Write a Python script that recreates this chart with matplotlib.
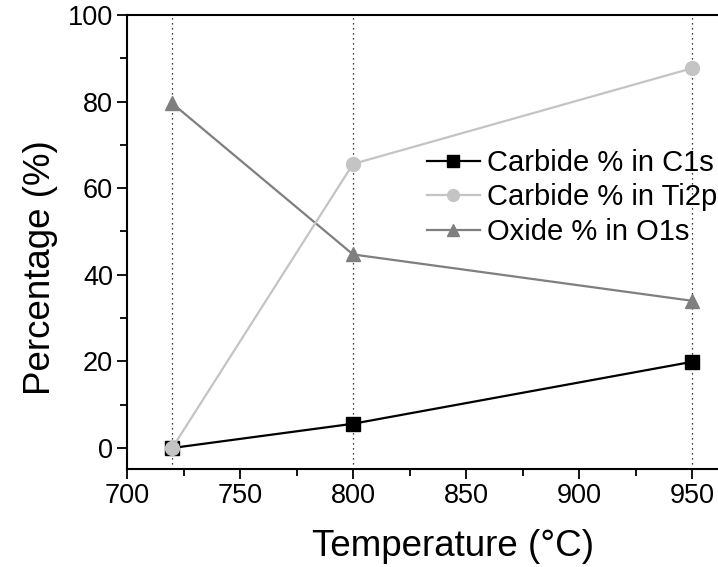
import matplotlib
matplotlib.use("Agg")
import matplotlib.pyplot as plt
from matplotlib.ticker import MultipleLocator

plt.rcParams['font.family'] = ['Liberation Sans', 'DejaVu Sans']

temps = [720, 800, 950]
c1s = [0.0, 5.6, 19.9]
ti2p = [0.0, 65.6, 87.7]
o1s = [79.6, 44.7, 34.0]
labels = ["Carbide % in C1s", "Carbide % in Ti2p", "Oxide % in O1s"]

W, H = 718, 567
fig = plt.figure(figsize=(W / 100, H / 100), dpi=100)
left, right, top, bottom = 127, 718, 15, 469
ax = fig.add_axes([left / W, 1 - bottom / H, (right - left) / W, (bottom - top) / H])

for t in temps:
    ax.axvline(t, color='black', linestyle=(0, (1, 3)), linewidth=0.9, zorder=1)

ax.plot(temps, c1s, color='black', marker='s', markersize=9.5, linewidth=1.6, label=labels[0], zorder=3)
ax.plot(temps, ti2p, color='#c4c4c4', marker='o', markersize=10, linewidth=1.6, label=labels[1], zorder=4)
ax.plot(temps, o1s, color='#7f7f7f', marker='^', markersize=10.5, linewidth=1.6, label=labels[2], zorder=3)

ax.set_xlim(700, 961.5)
ax.set_ylim(-4.85, 100)
ax.xaxis.set_major_locator(MultipleLocator(50))
ax.xaxis.set_minor_locator(MultipleLocator(25))
ax.yaxis.set_major_locator(MultipleLocator(20))
ax.yaxis.set_minor_locator(MultipleLocator(10))
ax.tick_params(which='major', direction='out', length=7, width=1.3, labelsize=19.5, pad=3)
ax.tick_params(which='minor', direction='out', length=5, width=1.3)
ax.spines['right'].set_visible(False)
for s in ['left', 'bottom', 'top']:
    ax.spines[s].set_linewidth(1.5)

ax.set_xlabel('Temperature (°C)', fontsize=26.5)
ax.set_ylabel('Percentage (%)', fontsize=26.5)
ax.xaxis.set_label_coords((453 - left) / (right - left), -(546 - bottom) / (bottom - top), transform=ax.transAxes)
ax.xaxis.label.set_va('center')
ax.yaxis.set_label_coords(-(127 - 41) / (right - left), 1 - (268 - top) / (bottom - top), transform=ax.transAxes)
ax.yaxis.label.set_va('center')

ax.legend(loc='upper left', bbox_to_anchor=(427 / W, 1 - 149 / H), bbox_transform=fig.transFigure,
          frameon=False, fontsize=21, handlelength=1.8, handletextpad=0.25, labelspacing=0.22,
          borderpad=0, borderaxespad=0, markerscale=0.85)

fig.savefig('out.png', dpi=100)
